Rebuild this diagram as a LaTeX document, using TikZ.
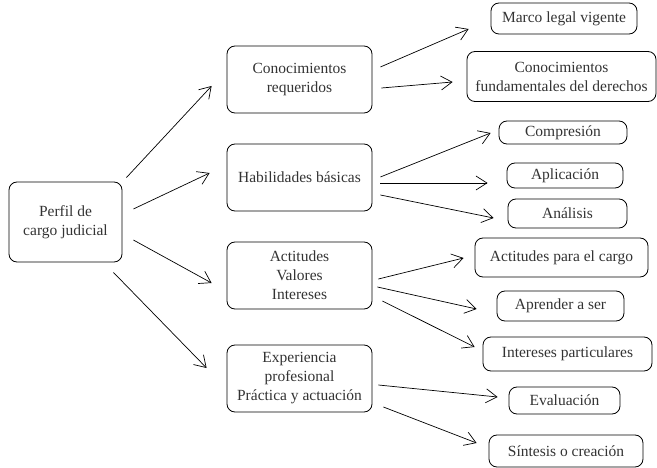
\documentclass[tikz,border=0pt]{standalone}
\usepackage{fontspec}
\setmainfont{Liberation Serif}
\usetikzlibrary{arrows.meta}
\begin{document}
\begin{tikzpicture}[x=1pt,y=-1pt,
  box/.style={draw, line width=0.8pt, rounded corners=8pt, align=center, inner sep=0pt,
    font=\fontsize{15.5}{19}\selectfont, text=black!80},
  arr/.style={line width=0.7pt, -{Straight Barb[length=11pt,width=14pt,line width=0.7pt]}}]
\useasboundingbox (0,0) rectangle (657,468);
% left
\node[box, minimum width=113, minimum height=80] (perfil) at (65.5,222) {Perfil de\\cargo judicial};
% middle
\node[box, minimum width=145, minimum height=67] (cr) at (299.5,79.5) {Conocimientos\\requeridos};
\node[box, minimum width=145, minimum height=67] (hb) at (299.5,177.5) {Habilidades básicas};
\node[box, minimum width=145, minimum height=67] (avi) at (299.5,275.5) {Actitudes\\Valores\\Intereses};
\node[box, minimum width=145, minimum height=67] (exp) at (299.5,378.5) {Experiencia\\profesional\\Práctica y actuación};
% right
\node[box, minimum width=146, minimum height=31] (marco) at (564,18.5) {Marco legal vigente};
\node[box, minimum width=189, minimum height=50] (fund) at (561.5,76.5) {Conocimientos\\fundamentales del derechos};
\node[box, minimum width=128, minimum height=23] (comp) at (563,132.5) {Compresión};
\node[box, minimum width=116, minimum height=25] (apl) at (565,175.5) {Aplicación};
\node[box, minimum width=119, minimum height=29] (anal) at (567.5,213.5) {Análisis};
\node[box, minimum width=173, minimum height=39] (actc) at (561.5,257.5) {Actitudes para el cargo};
\node[box, minimum width=127, minimum height=30] (apr) at (560.5,306) {Aprender a ser};
\node[box, minimum width=169, minimum height=34] (inte) at (567.5,354) {Intereses particulares};
\node[box, minimum width=111, minimum height=27] (eval) at (564.5,400.5) {Evaluación};
\node[box, minimum width=154, minimum height=32] (sint) at (566,451) {Síntesis o creación};
% left arrows
\draw[arr] ([shift={(4,-4)}]perfil.north east) -- ([shift={(-15,6.5)}]cr.west);
\draw[arr] ([shift={(11,-13)}]perfil.east) -- ([shift={(-17,-4.5)}]hb.west);
\draw[arr] ([shift={(11,18)}]perfil.east) -- ([shift={(-15,7.5)}]avi.west);
\draw[arr] ([shift={(-9,10)}]perfil.south east) -- ([shift={(-20,-10.5)}]exp.west);
% right arrows
\draw[arr] ([shift={(8,-12.5)}]cr.east) -- ([shift={(-22,10.5)}]marco.west);
\draw[arr] ([shift={(9,8.5)}]cr.east) -- ([shift={(-14,5.5)}]fund.west);
\draw[arr] ([shift={(8,-0.5)}]hb.east) -- ([shift={(-8,0.5)}]comp.west);
\draw[arr] ([shift={(8,5.5)}]hb.east) -- ([shift={(-19,7.5)}]apl.west);
\draw[arr] ([shift={(8,17.5)}]hb.east) -- ([shift={(-14,4.5)}]anal.west);
\draw[arr] ([shift={(6,3.5)}]avi.east) -- ([shift={(-11,0.5)}]actc.west);
\draw[arr] ([shift={(5,11.5)}]avi.east) -- ([shift={(-20,3)}]apr.west);
\draw[arr] ([shift={(10,25.5)}]avi.east) -- ([shift={(-8,-7)}]inte.west);
\draw[arr] ([shift={(6,6.5)}]exp.east) -- ([shift={(-11,-3.5)}]eval.west);
\draw[arr] ([shift={(11,28.5)}]exp.east) -- ([shift={(-12,-8)}]sint.west);
\end{tikzpicture}
\end{document}
